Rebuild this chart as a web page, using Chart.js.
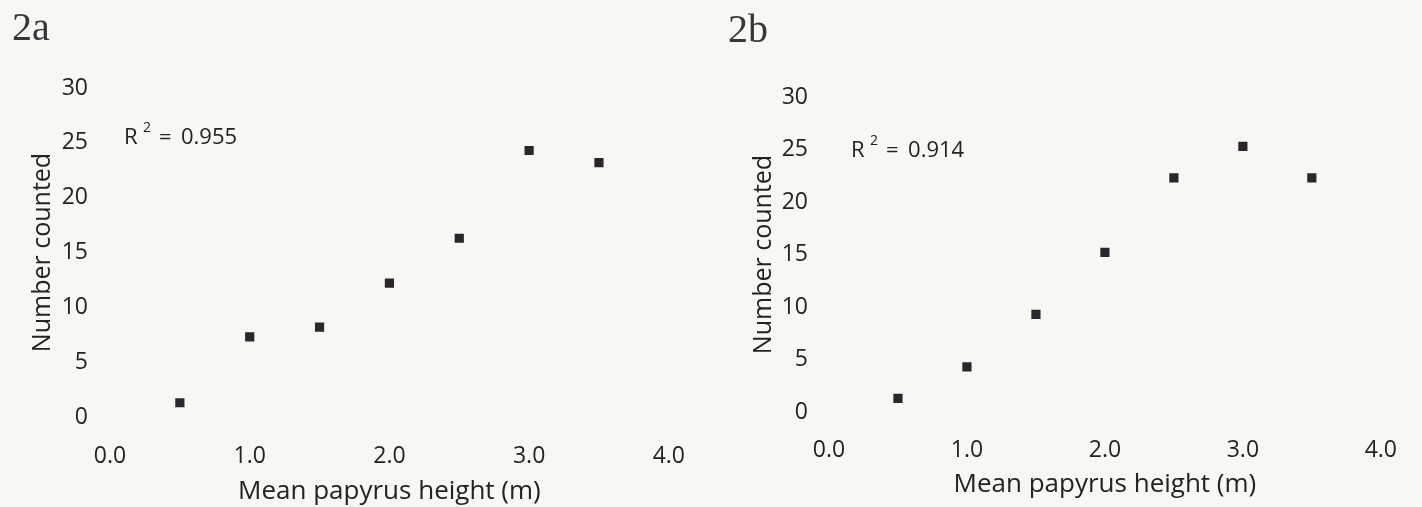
<!DOCTYPE html>
<html>
<head>
<meta charset="utf-8">
<script src="https://cdn.jsdelivr.net/npm/chart.js@4/dist/chart.umd.min.js"></script>
<style>
  html, body { margin: 0; padding: 0; background: #f7f7f3; }
  body { width: 1422px; height: 507px; position: relative; overflow: hidden; }
  .panel { position: absolute; top: 0; width: 711px; height: 507px; }
  .tag { position: absolute; font-family: "Liberation Serif", serif; font-size: 40px; line-height: 1; color: #3a3638; }
</style>
</head>
<body>
<div class="panel" style="left:0"><canvas id="chartA" width="711" height="507"></canvas></div>
<div class="panel" style="left:711px"><canvas id="chartB" width="711" height="507"></canvas></div>
<div class="tag" style="left:12px; top:7px">2a</div>
<div class="tag" style="left:728px; top:9px">2b</div>
<script>
// mean papyrus height (m) and counts
const heights = [0.5, 1.0, 1.5, 2.0, 2.5, 3.0, 3.5];
const countsA = [1.3, 7.3, 8.2, 12.2, 16.3, 24.3, 23.2];
const countsB = [1.3, 4.3, 9.3, 15.2, 22.3, 25.3, 22.3];
const xTicks = [0, 1, 2, 3, 4];
const yTicks = [0, 5, 10, 15, 20, 25, 30];
const r2A = "0.955";
const r2B = "0.914";

const ink = "#262223";
const fontFamily = '"Open Sans", sans-serif';

const r2Label = {
  id: "r2Label",
  afterDraw(chart, args, opts) {
    const { ctx, scales: { x, y } } = chart;
    const px = x.getPixelForValue(opts.at[0]);
    const py = y.getPixelForValue(opts.at[1]);
    ctx.save();
    ctx.fillStyle = ink;
    ctx.textAlign = "left";
    ctx.textBaseline = "alphabetic";
    ctx.font = "22px " + fontFamily;
    ctx.fillText("R", px, py);
    ctx.font = "14px " + fontFamily;
    ctx.fillText("2", px + 19, py - 12);
    ctx.font = "22px " + fontFamily;
    ctx.fillText("=", px + 35, py);
    ctx.fillText(opts.text, px + 57, py);
    ctx.restore();
  }
};

function makeChart(id, counts, r2, at, box) {
  new Chart(document.getElementById(id), {
    type: "scatter",
    data: {
      datasets: [{
        data: heights.map((h, i) => ({ x: h, y: counts[i] })),
        pointStyle: "rect",
        pointRadius: 6.5,
        pointHoverRadius: 6.5,
        backgroundColor: "#2b2629",
        borderWidth: 0
      }]
    },
    options: {
      responsive: false,
      animation: false,
      events: [],
      layout: { padding: { top: box.top, right: box.right, left: 0, bottom: 0 } },
      plugins: {
        legend: { display: false },
        tooltip: { enabled: false },
        r2Label: { text: r2, at: at }
      },
      scales: {
        x: {
          type: "linear",
          min: 0,
          max: 4,
          grid: { display: false, drawTicks: false },
          border: { display: false },
          afterBuildTicks: s => { s.ticks = xTicks.map(v => ({ value: v })); },
          afterFit: s => { s.height = box.xHeight; },
          ticks: {
            padding: box.xPad,
            color: ink,
            font: { family: fontFamily, size: 23 },
            callback: v => Number(v).toFixed(1)
          },
          title: {
            display: true,
            text: "Mean papyrus height (m)",
            color: ink,
            font: { family: fontFamily, size: 26, lineHeight: 1 },
            padding: { top: 0, bottom: box.xTitlePad }
          }
        },
        y: {
          type: "linear",
          min: 0,
          max: 30,
          grid: { display: false, drawTicks: false },
          border: { display: false },
          afterBuildTicks: s => { s.ticks = yTicks.map(v => ({ value: v })); },
          afterFit: s => { s.width = box.yWidth; },
          ticks: {
            padding: box.yPad,
            color: ink,
            font: { family: fontFamily, size: 23 }
          },
          title: {
            display: true,
            text: "Number counted",
            color: ink,
            font: { family: fontFamily, size: 25, lineHeight: 1 },
            padding: { top: box.yTitlePad, bottom: 0 }
          }
        }
      }
    },
    plugins: [r2Label]
  });
}

makeChart("chartA", countsA, r2A, [0.1, 24.9],
  { top: 88, right: 32, yWidth: 110, xHeight: 90, xPad: 26, yPad: 22, xTitlePad: 2, yTitlePad: 30 });
makeChart("chartB", countsB, r2B, [0.16, 24.3],
  { top: 97, right: 22, yWidth: 118, xHeight: 95, xPad: 25, yPad: 21, xTitlePad: 9, yTitlePad: 40 });
</script>
</body>
</html>
